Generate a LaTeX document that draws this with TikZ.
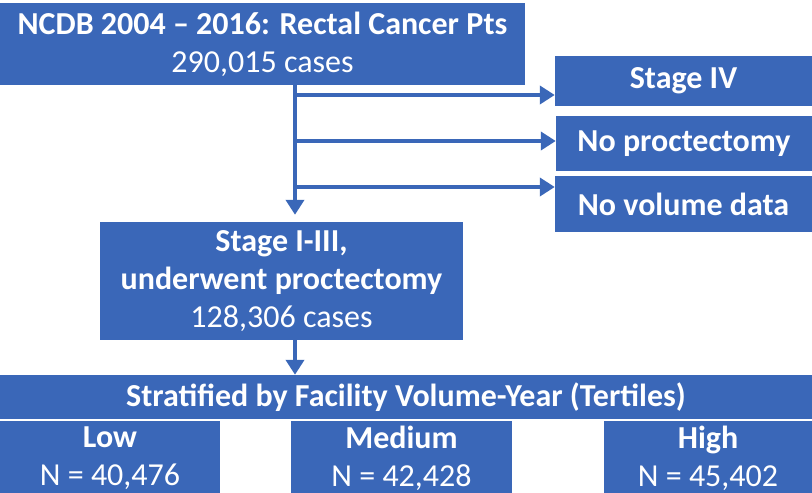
\documentclass[tikz,border=0pt]{standalone}
\usepackage{fontspec}
\setmainfont{Carlito}
\usetikzlibrary{arrows.meta,positioning,calc}
\definecolor{boxblue}{HTML}{3A67B8}

\begin{document}
\begin{tikzpicture}[
		x=1pt,
		y=-1pt,
		line cap=butt,
		box/.style={fill=boxblue,text=white,inner sep=0pt,align=center,font=\fontsize{32}{38}\selectfont},
		flow/.style={-{Triangle[length=15pt,width=18pt]},line width=4pt,draw=boxblue}
	]
	\useasboundingbox (0,0) rectangle (812,493);
	
	% Top box
	\node[box,minimum width=525pt,minimum height=82pt] (ncdb) at (262.5,44)
	{\textbf{NCDB 2004 – 2016: Rectal Cancer Pts}\\290,015 cases};
	
	% Exclusion boxes
	\node[box,minimum width=257pt,minimum height=50pt] (stage4) at (683.5,81) {\textbf{Stage IV}};
	\node[box,minimum width=256pt,minimum height=55pt] (noproc) at (684,143.5) {\textbf{No proctectomy}};
	\node[box,minimum width=257pt,minimum height=56pt] (novol) at (683.5,204) {\textbf{No volume data}};
	
	% Included cohort
	\node[box,minimum width=363pt,minimum height=118pt] (cohort) at (281.5,281)
	{\textbf{Stage I-III,}\\\textbf{underwent proctectomy}\\128,306 cases};
	
	% Stratification
	\node[box,minimum width=812pt,minimum height=44pt] (strat) at (406,397)
	{\textbf{Stratified by Facility Volume-Year (Tertiles)}};
	
	\node[box,minimum width=220pt,minimum height=74pt] (low) at (110,458)
	{\textbf{Low}\\N = 40,476};
	\node[box,minimum width=221pt,minimum height=74pt] (medium) at (401.5,458)
	{\textbf{Medium}\\N = 42,428};
	\node[box,minimum width=208pt,minimum height=74pt] (high) at (708,458)
	{\textbf{High}\\N = 45,402};
	
	% Trunk and branches
	\coordinate (trunk) at (295,0);
	\coordinate (b1) at (295,95);
	\coordinate (b2) at (295,141);
	\coordinate (b3) at (295,187);
	
	\draw[flow,shorten >=7pt] (ncdb.south -| trunk) -- (cohort.north -| trunk);
	\draw[flow] (b1) -- (b1 -| stage4.west);
	\draw[flow] (b2) -- (b2 -| noproc.west);
	\draw[flow] (b3) -- (b3 -| novol.west);
	
	\draw[flow] (cohort.south -| trunk) -- (strat.north -| trunk);
	
\end{tikzpicture}
\end{document}
